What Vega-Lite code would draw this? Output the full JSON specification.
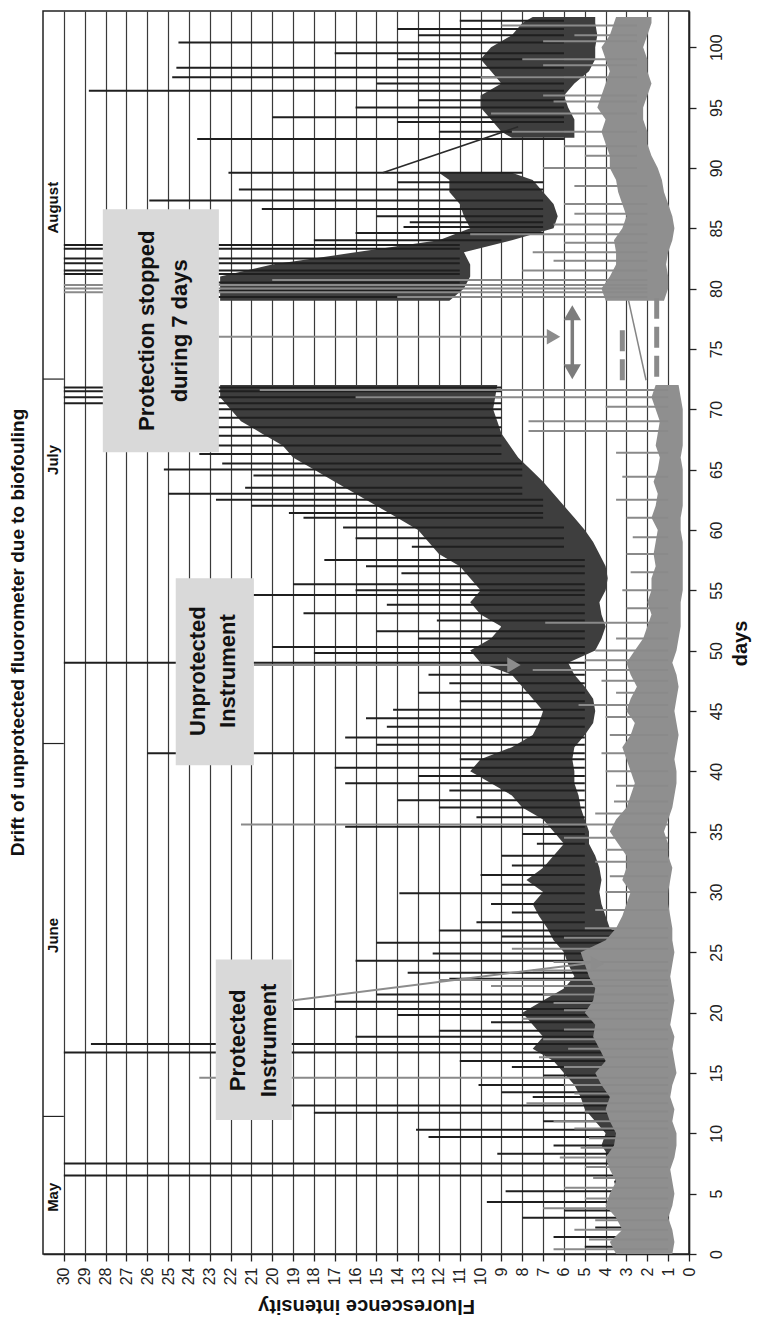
{
  "$schema": "https://vega.github.io/schema/vega-lite/v6.json",
  "width": 646,
  "height": 1243,
  "autosize": "none",
  "padding": {"left": 43, "top": 11, "right": 69, "bottom": 66},
  "background": "white",
  "config": {"font": "Liberation Sans", "view": {"stroke": "#222222", "strokeWidth": 1.5}},
  "title": {"text": "Drift of unprotected fluorometer due to biofouling", "orient": "left", "anchor": "middle", "fontSize": 19, "fontWeight": "bold", "font": "Liberation Sans", "color": "#111111", "offset": 14},
  "datasets": {
    "dark_band": [
      {"seg": "a", "day": 0, "v": 1.2, "v2": 3.0}, {"seg": "a", "day": 1, "v": 1.3, "v2": 3.2}, {"seg": "a", "day": 2, "v": 1.2, "v2": 2.8}, {"seg": "a", "day": 3, "v": 1.0, "v2": 2.6},
      {"seg": "a", "day": 4, "v": 1.0, "v2": 3.0}, {"seg": "a", "day": 5, "v": 1.1, "v2": 3.4}, {"seg": "a", "day": 6, "v": 1.2, "v2": 3.6}, {"seg": "a", "day": 7, "v": 1.3, "v2": 3.2},
      {"seg": "a", "day": 8, "v": 1.4, "v2": 3.8}, {"seg": "a", "day": 9, "v": 1.5, "v2": 4.2}, {"seg": "a", "day": 10, "v": 1.6, "v2": 4.0}, {"seg": "a", "day": 11, "v": 1.5, "v2": 4.5},
      {"seg": "a", "day": 12, "v": 1.6, "v2": 5.0}, {"seg": "a", "day": 13, "v": 1.8, "v2": 5.2}, {"seg": "a", "day": 14, "v": 1.8, "v2": 5.5}, {"seg": "a", "day": 15, "v": 2.0, "v2": 6.0},
      {"seg": "a", "day": 16, "v": 2.0, "v2": 6.5}, {"seg": "a", "day": 17, "v": 2.2, "v2": 7.5}, {"seg": "a", "day": 18, "v": 2.0, "v2": 7.0}, {"seg": "a", "day": 19, "v": 2.2, "v2": 7.5},
      {"seg": "a", "day": 20, "v": 2.5, "v2": 8.0}, {"seg": "a", "day": 21, "v": 2.5, "v2": 7.0}, {"seg": "a", "day": 22, "v": 2.3, "v2": 6.0}, {"seg": "a", "day": 23, "v": 2.2, "v2": 5.5},
      {"seg": "a", "day": 24, "v": 2.5, "v2": 5.8}, {"seg": "a", "day": 25, "v": 2.6, "v2": 6.0}, {"seg": "a", "day": 26, "v": 3.0, "v2": 6.5}, {"seg": "a", "day": 27, "v": 3.8, "v2": 6.8},
      {"seg": "a", "day": 28, "v": 4.0, "v2": 7.2}, {"seg": "a", "day": 29, "v": 4.2, "v2": 7.5}, {"seg": "a", "day": 30, "v": 4.3, "v2": 7.0}, {"seg": "a", "day": 31, "v": 4.2, "v2": 7.8},
      {"seg": "a", "day": 32, "v": 4.3, "v2": 7.0}, {"seg": "a", "day": 33, "v": 4.5, "v2": 6.5}, {"seg": "a", "day": 34, "v": 4.8, "v2": 6.0}, {"seg": "a", "day": 35, "v": 4.8, "v2": 6.5},
      {"seg": "a", "day": 36, "v": 5.0, "v2": 7.0}, {"seg": "a", "day": 37, "v": 5.2, "v2": 8.0}, {"seg": "a", "day": 38, "v": 5.3, "v2": 8.5}, {"seg": "a", "day": 39, "v": 5.5, "v2": 9.5},
      {"seg": "a", "day": 40, "v": 5.5, "v2": 10.5}, {"seg": "a", "day": 41, "v": 5.6, "v2": 10.0}, {"seg": "a", "day": 42, "v": 5.5, "v2": 8.5}, {"seg": "a", "day": 43, "v": 5.0, "v2": 7.5},
      {"seg": "a", "day": 44, "v": 4.6, "v2": 7.2}, {"seg": "a", "day": 45, "v": 4.5, "v2": 7.0}, {"seg": "a", "day": 46, "v": 4.6, "v2": 7.5}, {"seg": "a", "day": 47, "v": 5.0, "v2": 8.0},
      {"seg": "a", "day": 48, "v": 5.5, "v2": 8.5}, {"seg": "a", "day": 49, "v": 5.8, "v2": 10.0}, {"seg": "a", "day": 50, "v": 4.5, "v2": 10.5}, {"seg": "a", "day": 51, "v": 4.2, "v2": 9.5},
      {"seg": "a", "day": 52, "v": 4.0, "v2": 9.0}, {"seg": "a", "day": 53, "v": 4.2, "v2": 10.0}, {"seg": "a", "day": 54, "v": 4.3, "v2": 10.5}, {"seg": "a", "day": 55, "v": 4.0, "v2": 10.0},
      {"seg": "a", "day": 56, "v": 3.9, "v2": 10.5}, {"seg": "a", "day": 57, "v": 4.0, "v2": 11.0}, {"seg": "a", "day": 58, "v": 4.3, "v2": 12.0}, {"seg": "a", "day": 59, "v": 4.6, "v2": 12.5},
      {"seg": "a", "day": 60, "v": 5.0, "v2": 13.0}, {"seg": "a", "day": 61, "v": 5.5, "v2": 14.0}, {"seg": "a", "day": 62, "v": 6.0, "v2": 15.0}, {"seg": "a", "day": 63, "v": 6.5, "v2": 16.0},
      {"seg": "a", "day": 64, "v": 7.0, "v2": 17.0}, {"seg": "a", "day": 65, "v": 7.6, "v2": 18.0}, {"seg": "a", "day": 66, "v": 8.2, "v2": 19.0}, {"seg": "a", "day": 67, "v": 8.6, "v2": 19.5},
      {"seg": "a", "day": 68, "v": 9.0, "v2": 20.5}, {"seg": "a", "day": 69, "v": 9.2, "v2": 21.5}, {"seg": "a", "day": 70, "v": 9.4, "v2": 22.0}, {"seg": "a", "day": 71, "v": 9.3, "v2": 22.5},
      {"seg": "a", "day": 72, "v": 9.2, "v2": 22.5},
      {"seg": "b", "day": 79, "v": 11.5, "v2": 22.5}, {"seg": "b", "day": 80, "v": 10.8, "v2": 22.5}, {"seg": "b", "day": 81, "v": 10.5, "v2": 22.5}, {"seg": "b", "day": 82, "v": 10.5, "v2": 20.0},
      {"seg": "b", "day": 83, "v": 10.8, "v2": 16.0}, {"seg": "b", "day": 84, "v": 8.5, "v2": 12.0}, {"seg": "b", "day": 85, "v": 6.5, "v2": 10.5}, {"seg": "b", "day": 86, "v": 6.3, "v2": 10.8},
      {"seg": "b", "day": 87, "v": 6.5, "v2": 11.0}, {"seg": "b", "day": 88, "v": 7.0, "v2": 11.5}, {"seg": "b", "day": 89, "v": 7.5, "v2": 11.5}, {"seg": "b", "day": 89.6, "v": 8.5, "v2": 12.0},
      {"seg": "c", "day": 92.5, "v": 5.5, "v2": 8.5}, {"seg": "c", "day": 93, "v": 5.5, "v2": 9.0}, {"seg": "c", "day": 94, "v": 5.5, "v2": 9.5}, {"seg": "c", "day": 95, "v": 5.8, "v2": 10.0},
      {"seg": "c", "day": 96, "v": 6.0, "v2": 10.0}, {"seg": "c", "day": 97, "v": 5.5, "v2": 9.0}, {"seg": "c", "day": 98, "v": 4.8, "v2": 9.5}, {"seg": "c", "day": 99, "v": 4.5, "v2": 10.0},
      {"seg": "c", "day": 100, "v": 4.5, "v2": 9.5}, {"seg": "c", "day": 101, "v": 4.4, "v2": 8.5}, {"seg": "c", "day": 102, "v": 4.5, "v2": 8.0}, {"seg": "c", "day": 102.5, "v": 4.5, "v2": 7.5}
    ],
    "light_band": [
      {"seg": "a", "day": 0, "v": 0.8, "v2": 3.5}, {"seg": "a", "day": 1, "v": 0.7, "v2": 3.8}, {"seg": "a", "day": 2, "v": 0.8, "v2": 3.2}, {"seg": "a", "day": 3, "v": 1.0, "v2": 3.5},
      {"seg": "a", "day": 4, "v": 0.8, "v2": 4.0}, {"seg": "a", "day": 5, "v": 0.7, "v2": 3.8}, {"seg": "a", "day": 6, "v": 0.8, "v2": 3.5}, {"seg": "a", "day": 7, "v": 0.9, "v2": 3.8},
      {"seg": "a", "day": 8, "v": 0.7, "v2": 4.0}, {"seg": "a", "day": 9, "v": 0.6, "v2": 3.6}, {"seg": "a", "day": 10, "v": 0.6, "v2": 3.5}, {"seg": "a", "day": 11, "v": 0.8, "v2": 3.8},
      {"seg": "a", "day": 12, "v": 0.7, "v2": 4.0}, {"seg": "a", "day": 13, "v": 0.9, "v2": 3.8}, {"seg": "a", "day": 14, "v": 0.8, "v2": 4.2}, {"seg": "a", "day": 15, "v": 0.6, "v2": 4.5},
      {"seg": "a", "day": 16, "v": 0.7, "v2": 4.0}, {"seg": "a", "day": 17, "v": 0.8, "v2": 4.3}, {"seg": "a", "day": 18, "v": 0.7, "v2": 4.6}, {"seg": "a", "day": 19, "v": 0.9, "v2": 4.5},
      {"seg": "a", "day": 20, "v": 0.8, "v2": 5.0}, {"seg": "a", "day": 21, "v": 0.7, "v2": 4.6}, {"seg": "a", "day": 22, "v": 0.8, "v2": 4.5}, {"seg": "a", "day": 23, "v": 0.9, "v2": 4.8},
      {"seg": "a", "day": 24, "v": 0.8, "v2": 5.0}, {"seg": "a", "day": 25, "v": 0.7, "v2": 5.2}, {"seg": "a", "day": 26, "v": 0.8, "v2": 4.0}, {"seg": "a", "day": 27, "v": 0.8, "v2": 3.5},
      {"seg": "a", "day": 28, "v": 0.9, "v2": 3.2}, {"seg": "a", "day": 29, "v": 1.0, "v2": 3.0}, {"seg": "a", "day": 30, "v": 1.0, "v2": 2.8}, {"seg": "a", "day": 31, "v": 0.9, "v2": 3.2},
      {"seg": "a", "day": 32, "v": 0.8, "v2": 3.0}, {"seg": "a", "day": 33, "v": 1.0, "v2": 3.0}, {"seg": "a", "day": 34, "v": 1.0, "v2": 3.4}, {"seg": "a", "day": 35, "v": 1.2, "v2": 3.8},
      {"seg": "a", "day": 36, "v": 1.0, "v2": 3.5}, {"seg": "a", "day": 37, "v": 0.8, "v2": 3.0}, {"seg": "a", "day": 38, "v": 0.7, "v2": 2.8}, {"seg": "a", "day": 39, "v": 0.6, "v2": 2.6},
      {"seg": "a", "day": 40, "v": 0.6, "v2": 2.8}, {"seg": "a", "day": 41, "v": 0.7, "v2": 3.0}, {"seg": "a", "day": 42, "v": 0.6, "v2": 3.2}, {"seg": "a", "day": 43, "v": 0.5, "v2": 2.8},
      {"seg": "a", "day": 44, "v": 0.6, "v2": 2.6}, {"seg": "a", "day": 45, "v": 0.7, "v2": 3.0}, {"seg": "a", "day": 46, "v": 0.6, "v2": 2.8}, {"seg": "a", "day": 47, "v": 0.5, "v2": 2.5},
      {"seg": "a", "day": 48, "v": 0.6, "v2": 2.8}, {"seg": "a", "day": 49, "v": 0.8, "v2": 3.0}, {"seg": "a", "day": 50, "v": 0.6, "v2": 2.6}, {"seg": "a", "day": 51, "v": 0.5, "v2": 2.2},
      {"seg": "a", "day": 52, "v": 0.4, "v2": 2.0}, {"seg": "a", "day": 53, "v": 0.4, "v2": 1.8}, {"seg": "a", "day": 54, "v": 0.4, "v2": 2.0}, {"seg": "a", "day": 55, "v": 0.3, "v2": 1.8},
      {"seg": "a", "day": 56, "v": 0.3, "v2": 1.8}, {"seg": "a", "day": 57, "v": 0.3, "v2": 1.6}, {"seg": "a", "day": 58, "v": 0.3, "v2": 1.7}, {"seg": "a", "day": 59, "v": 0.3, "v2": 1.6},
      {"seg": "a", "day": 60, "v": 0.4, "v2": 1.5}, {"seg": "a", "day": 61, "v": 0.4, "v2": 1.8}, {"seg": "a", "day": 62, "v": 0.3, "v2": 1.6}, {"seg": "a", "day": 63, "v": 0.3, "v2": 1.5},
      {"seg": "a", "day": 64, "v": 0.3, "v2": 1.7}, {"seg": "a", "day": 65, "v": 0.3, "v2": 1.5}, {"seg": "a", "day": 66, "v": 0.4, "v2": 1.4}, {"seg": "a", "day": 67, "v": 0.3, "v2": 1.6},
      {"seg": "a", "day": 68, "v": 0.3, "v2": 1.5}, {"seg": "a", "day": 69, "v": 0.3, "v2": 1.4}, {"seg": "a", "day": 70, "v": 0.3, "v2": 1.6}, {"seg": "a", "day": 71, "v": 0.4, "v2": 1.8},
      {"seg": "a", "day": 72, "v": 0.5, "v2": 1.6},
      {"seg": "b", "day": 79, "v": 1.2, "v2": 4.0}, {"seg": "b", "day": 80, "v": 1.0, "v2": 4.2}, {"seg": "b", "day": 81, "v": 1.0, "v2": 3.8}, {"seg": "b", "day": 82, "v": 1.1, "v2": 3.5},
      {"seg": "b", "day": 83, "v": 1.0, "v2": 3.5}, {"seg": "b", "day": 84, "v": 0.8, "v2": 3.6}, {"seg": "b", "day": 85, "v": 0.7, "v2": 3.2}, {"seg": "b", "day": 86, "v": 0.8, "v2": 3.0},
      {"seg": "b", "day": 87, "v": 1.0, "v2": 3.2}, {"seg": "b", "day": 88, "v": 1.2, "v2": 3.4}, {"seg": "b", "day": 89, "v": 1.3, "v2": 3.5}, {"seg": "b", "day": 90, "v": 1.5, "v2": 3.8},
      {"seg": "b", "day": 91, "v": 1.8, "v2": 3.8}, {"seg": "b", "day": 92, "v": 2.0, "v2": 4.0}, {"seg": "b", "day": 93, "v": 2.0, "v2": 4.2}, {"seg": "b", "day": 94, "v": 2.2, "v2": 4.0},
      {"seg": "b", "day": 95, "v": 2.2, "v2": 4.4}, {"seg": "b", "day": 96, "v": 2.0, "v2": 4.2}, {"seg": "b", "day": 97, "v": 1.8, "v2": 4.0}, {"seg": "b", "day": 98, "v": 2.0, "v2": 3.8},
      {"seg": "b", "day": 99, "v": 2.0, "v2": 4.0}, {"seg": "b", "day": 100, "v": 2.2, "v2": 4.2}, {"seg": "b", "day": 101, "v": 2.0, "v2": 3.8}, {"seg": "b", "day": 102, "v": 1.8, "v2": 3.6},
      {"seg": "b", "day": 102.5, "v": 1.8, "v2": 3.5}
    ],
    "dark_spikes": [
      {"day": 0.6, "v": 2, "v2": 5.0}, {"day": 1.4, "v": 2, "v2": 6.5}, {"day": 2.2, "v": 2, "v2": 4.5}, {"day": 3.0, "v": 2, "v2": 8.0},
      {"day": 3.6, "v": 2, "v2": 6.0}, {"day": 4.3, "v": 2, "v2": 9.7}, {"day": 5.2, "v": 2, "v2": 8.8}, {"day": 6.5, "v": 2, "v2": 30},
      {"day": 7.5, "v": 2, "v2": 30}, {"day": 8.3, "v": 2, "v2": 9.2}, {"day": 9.0, "v": 2, "v2": 6.5}, {"day": 9.7, "v": 2, "v2": 12.5},
      {"day": 10.3, "v": 2, "v2": 13.1}, {"day": 11.0, "v": 2, "v2": 7.0}, {"day": 11.7, "v": 2, "v2": 18.0}, {"day": 12.3, "v": 2, "v2": 20.0},
      {"day": 13.0, "v": 2, "v2": 7.5}, {"day": 13.4, "v": 2, "v2": 9.0}, {"day": 14.0, "v": 2, "v2": 10.1}, {"day": 14.8, "v": 2, "v2": 7.0},
      {"day": 15.5, "v": 2, "v2": 8.5}, {"day": 16.0, "v": 2, "v2": 11.0}, {"day": 16.7, "v": 2, "v2": 30}, {"day": 17.4, "v": 2, "v2": 28.7},
      {"day": 18.0, "v": 2, "v2": 16.0}, {"day": 18.5, "v": 2, "v2": 12.0}, {"day": 19.2, "v": 2, "v2": 9.5}, {"day": 19.8, "v": 2, "v2": 14.0},
      {"day": 20.3, "v": 2, "v2": 19.0}, {"day": 20.9, "v": 2, "v2": 17.0}, {"day": 21.5, "v": 2, "v2": 15.0}, {"day": 22.2, "v": 2, "v2": 9.0},
      {"day": 22.8, "v": 2, "v2": 11.5}, {"day": 23.3, "v": 2, "v2": 13.5}, {"day": 24.3, "v": 2, "v2": 16.0}, {"day": 24.9, "v": 2, "v2": 12.3},
      {"day": 25.8, "v": 2, "v2": 15.0}, {"day": 26.3, "v": 2, "v2": 9.0}, {"day": 26.8, "v": 2, "v2": 12.0}, {"day": 27.5, "v": 5, "v2": 10.2},
      {"day": 28.3, "v": 5, "v2": 8.5}, {"day": 29.0, "v": 5, "v2": 9.5}, {"day": 29.9, "v": 5, "v2": 13.9}, {"day": 30.6, "v": 5, "v2": 9.0},
      {"day": 31.4, "v": 5, "v2": 10.0}, {"day": 32.2, "v": 5, "v2": 8.5}, {"day": 33.0, "v": 5, "v2": 9.0}, {"day": 34.0, "v": 5, "v2": 7.3},
      {"day": 34.8, "v": 5, "v2": 8.0}, {"day": 35.4, "v": 5, "v2": 16.5}, {"day": 36.2, "v": 5, "v2": 10.2}, {"day": 37.0, "v": 5, "v2": 12.0},
      {"day": 37.6, "v": 5, "v2": 14.0}, {"day": 38.4, "v": 5, "v2": 11.5}, {"day": 39.0, "v": 5, "v2": 16.5}, {"day": 39.6, "v": 5, "v2": 13.0},
      {"day": 40.3, "v": 5, "v2": 17.0}, {"day": 41.0, "v": 5, "v2": 11.0}, {"day": 41.5, "v": 5, "v2": 26.0}, {"day": 42.2, "v": 5, "v2": 15.0},
      {"day": 42.8, "v": 5, "v2": 16.5}, {"day": 43.7, "v": 5, "v2": 14.5}, {"day": 44.4, "v": 5, "v2": 15.5}, {"day": 45.1, "v": 5, "v2": 14.2},
      {"day": 45.8, "v": 5, "v2": 11.0}, {"day": 46.5, "v": 5, "v2": 13.0}, {"day": 47.3, "v": 5, "v2": 11.5}, {"day": 48.0, "v": 5, "v2": 12.5},
      {"day": 49.0, "v": 5, "v2": 30}, {"day": 49.8, "v": 5, "v2": 18.0}, {"day": 50.3, "v": 5, "v2": 20.0}, {"day": 51.0, "v": 5, "v2": 13.0},
      {"day": 51.6, "v": 5, "v2": 15.0}, {"day": 52.5, "v": 5, "v2": 12.1}, {"day": 53.1, "v": 5, "v2": 18.5}, {"day": 53.8, "v": 5, "v2": 14.5},
      {"day": 54.6, "v": 5, "v2": 21.0}, {"day": 55.0, "v": 5, "v2": 16.0}, {"day": 55.5, "v": 5, "v2": 19.0}, {"day": 56.4, "v": 5, "v2": 13.8},
      {"day": 57.0, "v": 5, "v2": 15.5}, {"day": 57.5, "v": 5, "v2": 17.5}, {"day": 58.6, "v": 6, "v2": 13.3}, {"day": 59.3, "v": 6, "v2": 16.0},
      {"day": 60.2, "v": 6, "v2": 16.6}, {"day": 61.0, "v": 7, "v2": 18.5}, {"day": 61.4, "v": 7, "v2": 19.2}, {"day": 62.0, "v": 7, "v2": 21.0},
      {"day": 62.5, "v": 7, "v2": 22.7}, {"day": 63.0, "v": 8, "v2": 25.0}, {"day": 63.5, "v": 8, "v2": 21.3}, {"day": 64.5, "v": 8, "v2": 20.9},
      {"day": 65.0, "v": 8, "v2": 25.2}, {"day": 65.5, "v": 8, "v2": 22.4}, {"day": 66.3, "v": 9, "v2": 23.5}, {"day": 67.0, "v": 9, "v2": 24.0},
      {"day": 67.8, "v": 9, "v2": 23.0}, {"day": 68.5, "v": 9, "v2": 24.5}, {"day": 69.3, "v": 9, "v2": 26.0}, {"day": 70.0, "v": 9, "v2": 27.0},
      {"day": 70.5, "v": 9, "v2": 30}, {"day": 71.0, "v": 9, "v2": 30}, {"day": 71.5, "v": 9, "v2": 30}, {"day": 71.8, "v": 9, "v2": 30},
      {"day": 79.3, "v": 11, "v2": 27.0}, {"day": 79.8, "v": 11, "v2": 25.0}, {"day": 80.5, "v": 11, "v2": 26.0}, {"day": 81.2, "v": 11, "v2": 30},
      {"day": 81.5, "v": 11, "v2": 30}, {"day": 82.1, "v": 11, "v2": 30}, {"day": 82.5, "v": 11, "v2": 30}, {"day": 83.3, "v": 11, "v2": 30},
      {"day": 83.6, "v": 11, "v2": 30}, {"day": 84.0, "v": 9, "v2": 18.0}, {"day": 84.6, "v": 7, "v2": 16.0}, {"day": 85.1, "v": 7, "v2": 13.7},
      {"day": 85.5, "v": 7, "v2": 13.4}, {"day": 86.0, "v": 7, "v2": 15.0}, {"day": 86.6, "v": 7, "v2": 20.5}, {"day": 87.3, "v": 7, "v2": 25.9},
      {"day": 88.2, "v": 7, "v2": 21.6}, {"day": 88.8, "v": 7, "v2": 14.0}, {"day": 89.6, "v": 8, "v2": 22.1}, {"day": 92.4, "v": 6, "v2": 23.6},
      {"day": 93.0, "v": 6, "v2": 12.0}, {"day": 93.8, "v": 6, "v2": 14.0}, {"day": 94.2, "v": 6, "v2": 20.0}, {"day": 95.0, "v": 6, "v2": 16.0},
      {"day": 95.6, "v": 6, "v2": 13.0}, {"day": 96.4, "v": 6, "v2": 28.8}, {"day": 97.0, "v": 6, "v2": 15.0}, {"day": 97.5, "v": 6, "v2": 24.8},
      {"day": 98.3, "v": 6, "v2": 24.6}, {"day": 99.0, "v": 6, "v2": 14.0}, {"day": 99.5, "v": 6, "v2": 17.0}, {"day": 100.4, "v": 6, "v2": 24.5},
      {"day": 101.0, "v": 6, "v2": 13.0}, {"day": 101.5, "v": 6, "v2": 14.0}, {"day": 102.2, "v": 6, "v2": 11.0}
    ],
    "light_spikes": [
      {"day": 0.4, "v": 1, "v2": 6.5}, {"day": 1.2, "v": 1, "v2": 4.8}, {"day": 2.0, "v": 1, "v2": 5.5}, {"day": 2.8, "v": 1, "v2": 4.5},
      {"day": 3.8, "v": 1, "v2": 7.0}, {"day": 4.6, "v": 1, "v2": 5.0}, {"day": 5.5, "v": 1, "v2": 6.0}, {"day": 6.3, "v": 1, "v2": 4.6},
      {"day": 7.2, "v": 1, "v2": 5.0}, {"day": 8.0, "v": 1, "v2": 6.2}, {"day": 8.8, "v": 1, "v2": 5.2}, {"day": 9.6, "v": 1, "v2": 4.8},
      {"day": 10.4, "v": 1, "v2": 5.5}, {"day": 11.0, "v": 1, "v2": 6.5}, {"day": 11.8, "v": 1, "v2": 5.0}, {"day": 12.5, "v": 1, "v2": 7.8},
      {"day": 13.3, "v": 1, "v2": 5.5}, {"day": 14.0, "v": 1, "v2": 6.0}, {"day": 14.6, "v": 1, "v2": 23.5}, {"day": 15.5, "v": 1, "v2": 6.0},
      {"day": 16.3, "v": 1, "v2": 7.2}, {"day": 17.0, "v": 1, "v2": 5.8}, {"day": 17.8, "v": 1, "v2": 7.0}, {"day": 18.6, "v": 1, "v2": 6.0},
      {"day": 19.5, "v": 1, "v2": 8.0}, {"day": 20.2, "v": 1, "v2": 6.0}, {"day": 20.8, "v": 1, "v2": 6.5}, {"day": 21.5, "v": 1, "v2": 7.0},
      {"day": 22.2, "v": 1, "v2": 9.5}, {"day": 22.7, "v": 1, "v2": 12.0}, {"day": 23.5, "v": 1, "v2": 7.5}, {"day": 24.2, "v": 1, "v2": 6.5},
      {"day": 25.3, "v": 1, "v2": 8.5}, {"day": 26.2, "v": 1, "v2": 6.0}, {"day": 27.0, "v": 1, "v2": 5.0}, {"day": 28.5, "v": 1, "v2": 4.5},
      {"day": 30.0, "v": 1, "v2": 4.0}, {"day": 31.3, "v": 1, "v2": 3.8}, {"day": 32.5, "v": 1, "v2": 4.5}, {"day": 33.5, "v": 1, "v2": 4.0},
      {"day": 34.5, "v": 1, "v2": 6.0}, {"day": 35.6, "v": 1, "v2": 21.5}, {"day": 36.5, "v": 1, "v2": 4.5}, {"day": 37.5, "v": 1, "v2": 3.6},
      {"day": 38.8, "v": 1, "v2": 3.5}, {"day": 40.0, "v": 1, "v2": 4.0}, {"day": 41.5, "v": 1, "v2": 4.2}, {"day": 43.0, "v": 1, "v2": 3.8},
      {"day": 44.5, "v": 1, "v2": 4.0}, {"day": 45.5, "v": 1, "v2": 5.3}, {"day": 46.5, "v": 1, "v2": 3.5}, {"day": 47.5, "v": 1, "v2": 4.2},
      {"day": 48.4, "v": 1, "v2": 7.5}, {"day": 49.2, "v": 1, "v2": 5.0}, {"day": 50.0, "v": 1, "v2": 4.5}, {"day": 51.0, "v": 1, "v2": 3.5},
      {"day": 52.3, "v": 1, "v2": 6.9}, {"day": 53.5, "v": 1, "v2": 3.0}, {"day": 55.0, "v": 1, "v2": 3.2}, {"day": 56.5, "v": 1, "v2": 2.8},
      {"day": 58.0, "v": 1, "v2": 3.0}, {"day": 59.4, "v": 1, "v2": 2.7}, {"day": 61.0, "v": 1, "v2": 3.0}, {"day": 62.5, "v": 1, "v2": 3.5},
      {"day": 64.4, "v": 1, "v2": 3.2}, {"day": 66.4, "v": 1, "v2": 3.5}, {"day": 68.2, "v": 1, "v2": 7.7}, {"day": 69.0, "v": 1, "v2": 7.7},
      {"day": 70.2, "v": 1, "v2": 4.0}, {"day": 71.0, "v": 1, "v2": 16.0}, {"day": 71.6, "v": 1, "v2": 20.6},
      {"day": 79.3, "v": 2, "v2": 14.0}, {"day": 79.7, "v": 2, "v2": 30}, {"day": 80.0, "v": 2, "v2": 30}, {"day": 80.3, "v": 2, "v2": 30},
      {"day": 80.7, "v": 2, "v2": 20.0}, {"day": 81.5, "v": 2, "v2": 8.0}, {"day": 82.3, "v": 2, "v2": 6.5}, {"day": 83.0, "v": 2, "v2": 7.5},
      {"day": 83.8, "v": 2, "v2": 6.0}, {"day": 84.5, "v": 2, "v2": 10.5}, {"day": 85.3, "v": 2, "v2": 6.5}, {"day": 86.2, "v": 2, "v2": 5.5},
      {"day": 87.0, "v": 2, "v2": 6.0}, {"day": 88.5, "v": 2, "v2": 5.5}, {"day": 90.0, "v": 2.5, "v2": 7.0}, {"day": 91.0, "v": 2.5, "v2": 5.0},
      {"day": 91.8, "v": 2.5, "v2": 6.0}, {"day": 93.0, "v": 2.5, "v2": 8.5}, {"day": 94.5, "v": 2.5, "v2": 9.5}, {"day": 95.5, "v": 2.5, "v2": 6.5},
      {"day": 96.0, "v": 2.5, "v2": 7.0}, {"day": 97.5, "v": 2.5, "v2": 10.0}, {"day": 98.5, "v": 2.5, "v2": 7.0}, {"day": 99.0, "v": 2.5, "v2": 8.0},
      {"day": 100.5, "v": 2.5, "v2": 7.0}, {"day": 101.0, "v": 2.5, "v2": 5.5}, {"day": 101.8, "v": 2.5, "v2": 9.0}
    ],
    "dark_link": [{"day": 89.6, "v": 14.7, "day2": 93.4, "v2": 8.2}],
    "light_link": [{"day": 72.4, "v": 2.06, "day2": 79.0, "v2": 2.9}],
    "month_sep": [{"day": 11.4, "v": 30, "v2": 31}, {"day": 42.3, "v": 30, "v2": 31}, {"day": 72.5, "v": 30, "v2": 31}],
    "months": [{"month": "May", "day": 4.7, "v": 30.5}, {"month": "June", "day": 26.4, "v": 30.5}, {"month": "July", "day": 65.8, "v": 30.5}, {"month": "August", "day": 86.7, "v": 30.5}],
    "dashes": [{"v": 3.2, "day": 72.4, "day2": 77.1}, {"v": 1.55, "day": 72.7, "day2": 79.2}],
    "arrows": [
      {"name": "Protected", "day": 21.0, "v": 19.06, "day2": 24.1, "v2": 4.8},
      {"name": "Unprotected", "day": 48.8, "v": 20.88, "day2": 48.8, "v2": 8.6},
      {"name": "Stopped", "day": 76.0, "v": 22.56, "day2": 76.0, "v2": 6.8}
    ],
    "heads_right": [{"day": 24.05, "v": 4.4}, {"day": 48.8, "v": 8.4}, {"day": 76.0, "v": 6.5}],
    "double_arrow": [{"v": 5.6, "day": 73.4, "day2": 77.7}],
    "head_up": [{"day": 78.0, "v": 5.6}],
    "head_down": [{"day": 73.1, "v": 5.6}],
    "boxes": [
      {"name": "Protected", "v": 19.06, "v2": 22.71, "day": 11.1, "day2": 24.4},
      {"name": "Unprotected", "v": 20.88, "v2": 24.63, "day": 40.5, "day2": 56.0},
      {"name": "Stopped", "v": 22.56, "v2": 28.13, "day": 66.44, "day2": 86.58}
    ],
    "box_text": [
      {"text": "Protected", "v": 21.65, "day": 17.7},
      {"text": "Instrument", "v": 20.16, "day": 17.7},
      {"text": "Unprotected", "v": 23.57, "day": 48.3},
      {"text": "Instrument", "v": 22.13, "day": 48.3},
      {"text": "Protection stopped", "v": 26.02, "day": 76.5},
      {"text": "during 7 days", "v": 24.44, "day": 76.5}
    ]
  },
  "encoding": {
    "y": {"field": "day", "type": "quantitative", "scale": {"domain": [0, 103], "nice": false, "zero": false},
      "axis": {"orient": "right", "values": [0, 5, 10, 15, 20, 25, 30, 35, 40, 45, 50, 55, 60, 65, 70, 75, 80, 85, 90, 95, 100], "title": "days", "titleAngle": 270, "titleFontSize": 20, "titleFontWeight": "bold", "titleColor": "#111111", "titleX": 51, "titleY": 632, "titleAlign": "center", "titleBaseline": "middle", "labelAngle": 270, "labelAlign": "center", "labelBaseline": "middle", "labelPadding": 20, "labelFontSize": 16, "labelColor": "#222222", "tickSize": 7, "tickColor": "#222222", "tickWidth": 1.3, "domainColor": "#222222", "domainWidth": 1.5, "grid": false, "labelOverlap": false, "labelFlush": false}},
    "x": {"field": "v", "type": "quantitative", "scale": {"domain": [0, 31], "reverse": true, "nice": false, "zero": false},
      "axis": {"orient": "bottom", "values": [0, 1, 2, 3, 4, 5, 6, 7, 8, 9, 10, 11, 12, 13, 14, 15, 16, 17, 18, 19, 20, 21, 22, 23, 24, 25, 26, 27, 28, 29, 30], "title": "Fluorescence intensity", "titleAngle": 180, "titleFontSize": 20, "titleFontWeight": "bold", "titleColor": "#111111", "titleX": 323, "titleY": 51, "titleAlign": "center", "titleBaseline": "middle", "labelAngle": 270, "labelAlign": "right", "labelBaseline": "middle", "labelPadding": 6, "labelFontSize": 16, "labelColor": "#222222", "tickSize": 7, "tickColor": "#222222", "tickWidth": 1.3, "domainColor": "#222222", "domainWidth": 1.5, "grid": true, "gridColor": "#3a3a3a", "gridWidth": 1.2, "labelOverlap": false, "labelFlush": false}}
  },
  "layer": [
    {"data": {"name": "dark_band"}, "mark": {"type": "area", "orient": "horizontal", "color": "#3e3e3e", "opacity": 1}, "encoding": {"x2": {"field": "v2"}, "detail": {"field": "seg"}}},
    {"data": {"name": "dark_spikes"}, "mark": {"type": "rule", "color": "#1f1f1f", "strokeWidth": 2}, "encoding": {"x2": {"field": "v2"}}},
    {"data": {"name": "dark_link"}, "mark": {"type": "rule", "color": "#2a2a2a", "strokeWidth": 1.6}, "encoding": {"x2": {"field": "v2"}, "y2": {"field": "day2"}}},
    {"data": {"name": "light_band"}, "mark": {"type": "area", "orient": "horizontal", "color": "#8f8f8f", "opacity": 1}, "encoding": {"x2": {"field": "v2"}, "detail": {"field": "seg"}}},
    {"data": {"name": "light_spikes"}, "mark": {"type": "rule", "color": "#8a8a8a", "strokeWidth": 2}, "encoding": {"x2": {"field": "v2"}}},
    {"data": {"name": "light_link"}, "mark": {"type": "rule", "color": "#858585", "strokeWidth": 1.5}, "encoding": {"x2": {"field": "v2"}, "y2": {"field": "day2"}}},
    {"data": {"name": "month_sep"}, "mark": {"type": "rule", "color": "#222222", "strokeWidth": 1.2}, "encoding": {"x2": {"field": "v2"}}},
    {"data": {"name": "months"}, "mark": {"type": "text", "angle": 270, "fontSize": 15, "fontWeight": "bold", "color": "#111111", "align": "center", "baseline": "middle"}, "encoding": {"text": {"field": "month"}}},
    {"data": {"name": "dashes"}, "mark": {"type": "rule", "color": "#8a8a8a", "strokeWidth": 5, "strokeDash": [21, 8]}, "encoding": {"y2": {"field": "day2"}}},
    {"data": {"name": "arrows"}, "mark": {"type": "rule", "color": "#8c8c8c", "strokeWidth": 2}, "encoding": {"x2": {"field": "v2"}, "y2": {"field": "day2"}}},
    {"data": {"name": "double_arrow"}, "mark": {"type": "rule", "color": "#7c7c7c", "strokeWidth": 3.5}, "encoding": {"y2": {"field": "day2"}}},
    {"data": {"name": "heads_right"}, "mark": {"type": "point", "shape": "triangle-right", "filled": true, "color": "#8c8c8c", "size": 240, "opacity": 1}},
    {"data": {"name": "head_up"}, "mark": {"type": "point", "shape": "triangle-up", "filled": true, "color": "#7c7c7c", "size": 300, "opacity": 1}},
    {"data": {"name": "head_down"}, "mark": {"type": "point", "shape": "triangle-down", "filled": true, "color": "#7c7c7c", "size": 300, "opacity": 1}},
    {"data": {"name": "boxes"}, "mark": {"type": "rect", "color": "#d9d9d9", "opacity": 1}, "encoding": {"x2": {"field": "v2"}, "y2": {"field": "day2"}}},
    {"data": {"name": "box_text"}, "mark": {"type": "text", "angle": 270, "fontSize": 22, "fontWeight": "bold", "color": "#111111", "align": "center", "baseline": "middle"}, "encoding": {"text": {"field": "text"}}}
  ]
}
